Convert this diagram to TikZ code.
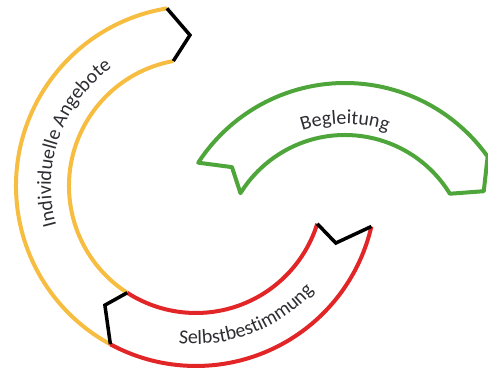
\documentclass[tikz,border=0pt]{standalone}
\usepackage{fontspec}
\setmainfont{Carlito}
\usepackage{tikz}
\usetikzlibrary{calc,decorations.text}
\definecolor{angebotgelb}{RGB}{246,189,64}
\definecolor{selbstrot}{RGB}{226,37,38}
\definecolor{begleitgruen}{RGB}{78,166,58}
\definecolor{schrift}{RGB}{45,45,52}
\newcommand{\bandschrift}{\fontsize{20}{24}\selectfont}

\begin{document}
\begin{tikzpicture}[x=1pt, y=1pt,
    band/.style={line width=4pt, line join=round},
    kante/.style={line width=3.5pt, black, line join=miter},
    beschriftung/.style={decorate, decoration={text along path, text align=center, text color=schrift, text={|\bandschrift|#1}}}]
    \useasboundingbox (0,0) rectangle (488,369);
    \coordinate (M) at (196,183);
    \coordinate (G) at (345,111);
    \coordinate (gAo) at ($(M)+(99.3:180pt)$);
    \coordinate (gAi) at ($(M)+(100.3:127pt)$);
    \coordinate (gSp) at ($(M)+(92.3:151pt)$);
    \coordinate (gEo) at ($(M)+(241.6:180pt)$);
    \coordinate (gEi) at ($(M)+(237.2:127pt)$);
    \coordinate (gKe) at ($(M)+(232.6:150pt)$);
    \coordinate (rEo) at ($(M)+(347:180pt)$);
    \coordinate (rEi) at ($(M)+(342.7:127pt)$);
    \coordinate (rKe) at ($(M)+(337.8:151pt)$);
    \coordinate (bAo) at ($(G)+(147:175pt)$);
    \coordinate (bAi) at ($(G)+(148.2:123pt)$);
    \coordinate (bKe) at ($(G)+(141.2:145pt)$);
    \coordinate (bEo) at ($(G)+(35.4:175pt)$);
    \coordinate (bEi) at ($(G)+(31.5:123pt)$);
    \coordinate (bSp) at ($(G)+(25.7:154pt)$);
    \draw[band, angebotgelb] (gAo) arc[start angle=99.3, end angle=241.6, radius=180pt];
    \draw[band, angebotgelb] (gAi) arc[start angle=100.3, end angle=237.2, radius=127pt];
    \draw[band, selbstrot] (gEo) arc[start angle=241.6, end angle=347, radius=180pt];
    \draw[band, selbstrot] (gEi) arc[start angle=237.2, end angle=342.7, radius=127pt];
    \draw[band, begleitgruen] (bAo) arc[start angle=147, end angle=35.4, radius=175pt]
        -- (bSp) -- (bEi) arc[start angle=31.5, end angle=148.2, radius=123pt] -- (bKe) -- cycle;
    \draw[kante] (gAo) -- (gSp) -- (gAi);
    \draw[kante] (gEo) -- (gKe) -- (gEi);
    \draw[kante] (rEo) -- (rKe) -- (rEi);
    \path[beschriftung={Individuelle Angebote}] ($(M)+(205:145pt)$) arc[start angle=205, end angle=116, radius=145pt];
    \path[beschriftung={Begleitung}] ($(G)+(140:134pt)$) arc[start angle=140, end angle=40, radius=134pt];
    \path[beschriftung={Selbstbestimmung}] ($(M)+(255:158pt)$) arc[start angle=255, end angle=327, radius=158pt];
\end{tikzpicture}
\end{document}
